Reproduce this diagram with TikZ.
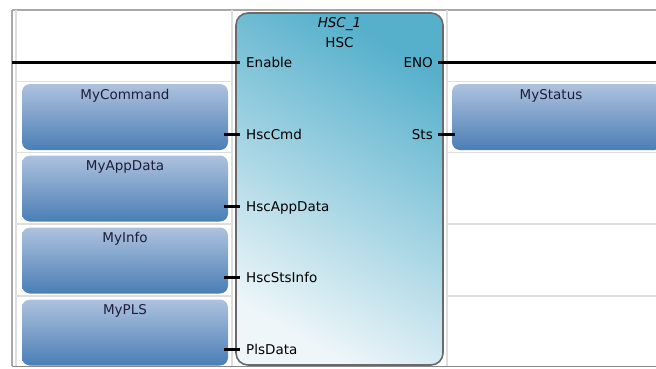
\documentclass[tikz,border=0pt]{standalone}
\usepackage{fontspec}
\setmainfont{DejaVu Sans}
\usepackage{tikz}
\usetikzlibrary{positioning}
\definecolor{blockteal}{HTML}{56B0CC}
\definecolor{blockpale}{HTML}{EEF6F9}
\definecolor{edgegrey}{HTML}{6A6A6A}
\definecolor{varpale}{HTML}{AEC2DE}
\definecolor{vardeep}{HTML}{4A7EB6}
\definecolor{gridline}{HTML}{DEDEDE}
\definecolor{framegrey}{HTML}{A8A8A8}
\definecolor{tagink}{HTML}{1E1E3A}

\begin{document}
\begin{tikzpicture}[
  x=1pt, y=-1pt, font=\fontsize{13.5}{15}\selectfont,
  grid/.style={draw=gridline, line width=1.3pt},
  frame/.style={draw=framegrey, line width=1.3pt},
  fblock/.style={rectangle, rounded corners=12pt, draw=edgegrey, line width=1.6pt,
                 top color=blockteal, bottom color=blockpale, shading angle=-30,
                 minimum width=207pt, minimum height=352pt, inner sep=0pt},
  varbox/.style={rectangle, rounded corners=8pt, top color=varpale, bottom color=vardeep,
                 minimum width=206pt, minimum height=66pt, inner sep=0pt},
  varname/.style={anchor=base, inner sep=0pt, text=tagink},
  pinin/.style={anchor=base west, inner sep=0pt, text=black},
  pinout/.style={anchor=base east, inner sep=0pt, text=black},
  wire/.style={line width=3pt},
  stub/.style={line width=3pt}]
\useasboundingbox (0,0) rectangle (656,368);

% rung grid
\draw[frame] (12,10) -- (656,10);
\draw[frame] (12,10) -- (12,366);
\draw[grid] (16,10) -- (16,366);
\draw[grid] (232,10) -- (232,366);
\draw[grid] (447,10) -- (447,366);
\draw[grid] (16,81.5) -- (232,81.5) (447,81.5) -- (656,81.5);
\draw[grid] (16,152.5) -- (232,152.5) (447,152.5) -- (656,152.5);
\draw[grid] (16,224) -- (232,224) (447,224) -- (656,224);
\draw[grid] (16,296) -- (232,296) (447,296) -- (656,296);
\draw[draw=edgegrey!80, line width=1.3pt] (12,366.5) -- (656,366.5);

% function block
\node[fblock] (blk) at (339.5,189) {};
\node[anchor=base, inner sep=0pt, font=\fontsize{13.5}{15}\selectfont\itshape] (inst)
  at (339.5,27) {HSC\_1};
\node[anchor=base, inner sep=0pt] (btype) at (339.5,47) {HSC};

% pin points
\coordinate (pen) at (236,62);
\coordinate (pcmd) at (236,134);
\coordinate (papp) at (236,206);
\coordinate (psts) at (236,277);
\coordinate (ppls) at (236,349);
\coordinate (peno) at (443,62);
\coordinate (pstat) at (443,134);
\coordinate (railL) at (12,62);
\coordinate (railR) at (656,62);

\node[pinin] (en) at ([xshift=10pt, yshift=-5pt]pen) {Enable};
\node[pinin] (hcmd) at ([xshift=10pt, yshift=-5pt]pcmd) {HscCmd};
\node[pinin] (happ) at ([xshift=10pt, yshift=-5pt]papp) {HscAppData};
\node[pinin] (hsts) at ([xshift=10pt, yshift=-5pt]psts) {HscStsInfo};
\node[pinin] (hpls) at ([xshift=10pt, yshift=-5pt]ppls) {PlsData};
\node[pinout] (eno) at ([xshift=-10pt, yshift=-5pt]peno) {ENO};
\node[pinout] (sts) at ([xshift=-10pt, yshift=-5pt]pstat) {Sts};

% tags
\node[varbox] (vcmd) at (125,117) {};
\node[varbox] (vapp) at (125,188.5) {};
\node[varbox] (vinfo) at (125,260.5) {};
\node[varbox] (vpls) at (125,332.5) {};
\node[varbox, minimum width=210pt] (vstat) at (557,117) {};
\node[varname] (ncmd) at ([yshift=-15.5pt]vcmd.north) {MyCommand};
\node[varname] (napp) at ([yshift=-15.5pt]vapp.north) {MyAppData};
\node[varname] (ninfo) at ([yshift=-15.5pt]vinfo.north) {MyInfo};
\node[varname] (npls) at ([yshift=-15.5pt]vpls.north) {MyPLS};
\node[varname] (nstat) at ([xshift=-6pt, yshift=-15.5pt]vstat.north) {MyStatus};

% wiring
\draw[wire] (railL) -- ([xshift=4pt]pen);
\draw[wire] ([xshift=-5pt]peno) -- (railR);
\draw[stub] ([xshift=-12pt]pcmd) -- ([xshift=4pt]pcmd);
\draw[stub] ([xshift=-12pt]papp) -- ([xshift=4pt]papp);
\draw[stub] ([xshift=-12pt]psts) -- ([xshift=4pt]psts);
\draw[stub] ([xshift=-12pt]ppls) -- ([xshift=4pt]ppls);
\draw[stub] ([xshift=-5pt]pstat) -- ([xshift=12pt]pstat);
\end{tikzpicture}
\end{document}
